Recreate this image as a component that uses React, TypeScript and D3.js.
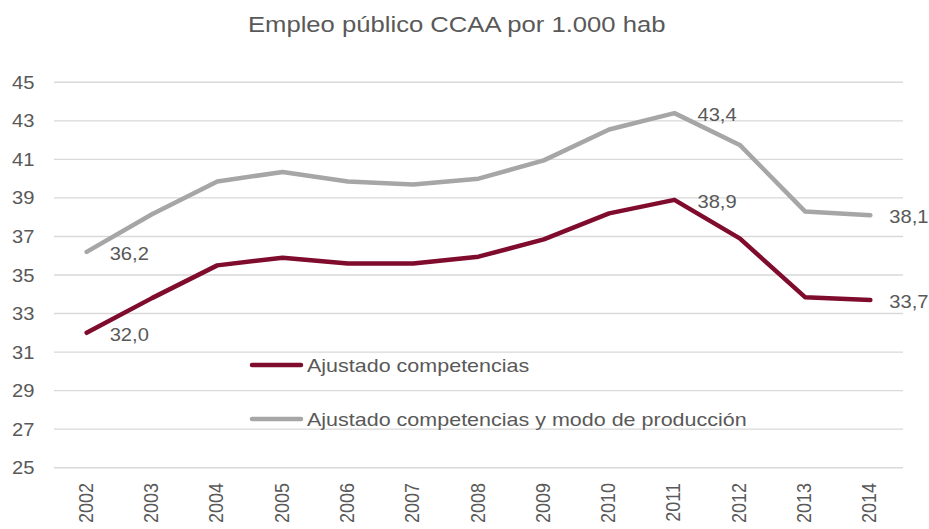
import React from "react";
import * as d3 from "d3";

const years = ["2002","2003","2004","2005","2006","2007","2008","2009","2010","2011","2012","2013","2014"];
const ajustadoCompetencias = [32.0, 33.8, 35.5, 35.9, 35.6, 35.6, 35.95, 36.85, 38.2, 38.9, 36.9, 33.85, 33.7];
const ajustadoModo = [36.2, 38.15, 39.85, 40.35, 39.85, 39.7, 40.0, 40.95, 42.55, 43.4, 41.75, 38.3, 38.1];
const yTicks = [25, 27, 29, 31, 33, 35, 37, 39, 41, 43, 45];
const labelledIdx = [0, 9, 12];
const seriesNames = ["Ajustado competencias", "Ajustado competencias y modo de producción"];
const title = "Empleo público CCAA por 1.000 hab";

const W = 929, H = 529;
const SX = 1.12; // horizontal text stretch of reference
const FONT = "'Liberation Sans', Arial, sans-serif";
const TXT = "#595959";
const RED = "#7F0B2D";
const GRAY = "#A6A6A6";

export default function App() {
  const x = d3.scaleBand<string>().domain(years).range([54, 903]).paddingInner(0).paddingOuter(0);
  const cx = (yr: string) => (x(yr) as number) + x.bandwidth() / 2;
  const y = d3.scaleLinear().domain([25, 45]).range([467.7, 82.3]);
  const line = d3.line<number>().x((_, i) => cx(years[i])).y((v) => y(v));
  const fmt = (v: number) => d3.format(".1f")(v).replace(".", ",");

  const series = [
    { name: seriesNames[0], values: ajustadoCompetencias, color: RED, legendY: 365 },
    { name: seriesNames[1], values: ajustadoModo, color: GRAY, legendY: 419 },
  ];

  const T = (props: { x: number; y: number; anchor?: string; size: number; children: any; rotate?: boolean; dy?: string }) => (
    <text
      transform={`translate(${props.x},${props.y}) scale(${SX},1)${props.rotate ? " rotate(-90)" : ""}`}
      textAnchor={props.anchor || "start"}
      fontSize={props.size}
      fontFamily={FONT}
      fill={TXT}
      dy={props.dy}
    >
      {props.children}
    </text>
  );

  return (
    <svg width={W} height={H} style={{ position: "absolute", left: 0, top: 0, background: "#fff" }}>
      <rect width={W} height={H} fill="#fff" />
      <T x={456.7} y={31.5} anchor="middle" size={22.9}>{title}</T>
      {yTicks.map((t) => (
        <g key={t}>
          <line x1={54} x2={903} y1={y(t)} y2={y(t)} stroke="#D9D9D9" strokeWidth={1.4} />
          <T x={34.5} y={y(t) + 6.5} anchor="end" size={18}>{t}</T>
        </g>
      ))}
      {years.map((yr) => (
        <T key={yr} x={cx(yr) - 1} y={483} anchor="end" size={18} rotate dy="0.35em">{yr}</T>
      ))}
      {series.map((s) => (
        <path key={s.name} d={line(s.values) as string} fill="none" stroke={s.color} strokeWidth={4.5} strokeLinejoin="round" strokeLinecap="round" />
      ))}
      {series.map((s) =>
        labelledIdx.map((i) => (
          <T key={s.name + i} x={cx(years[i]) + (i === years.length - 1 ? 19 : 23)} y={y(s.values[i]) + 8} size={18}>
            {fmt(s.values[i])}
          </T>
        ))
      )}
      {series.map((s) => (
        <g key={"lg" + s.name}>
          <line x1={252} x2={301} y1={s.legendY} y2={s.legendY} stroke={s.color} strokeWidth={4.5} strokeLinecap="round" />
          <T x={307} y={s.legendY + 7} size={19.2}>{s.name}</T>
        </g>
      ))}
    </svg>
  );
}
